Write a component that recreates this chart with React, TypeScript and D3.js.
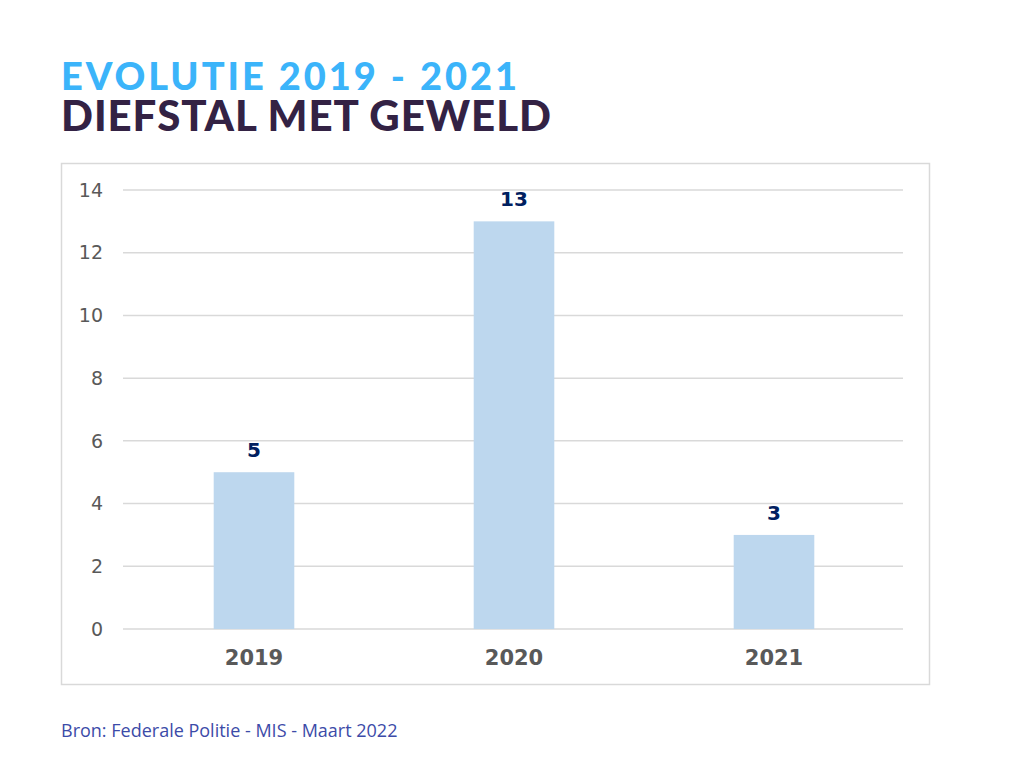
import React, { useEffect, useRef } from 'react';
import * as d3 from 'd3';

const YEARS = ['2019', '2020', '2021'];
const VALUES = [5, 13, 3];
const Y_TICKS = [0, 2, 4, 6, 8, 10, 12, 14];

const WIDTH = 1024;
const HEIGHT = 768;

const App: React.FC = () => {
  const svgRef = useRef<SVGSVGElement>(null);

  useEffect(() => {
    if (!svgRef.current) return;
    const svg = d3.select(svgRef.current);
    svg.selectAll('*').remove();

    svg.append('rect')
      .attr('width', WIDTH)
      .attr('height', HEIGHT)
      .attr('fill', '#ffffff');

    // Titles (stretched a bit to match the wide display face)
    svg.append('text')
      .attr('x', 61)
      .attr('y', 90)
      .attr('textLength', 456)
      .attr('lengthAdjust', 'spacing')
      .style('font-family', 'Lato, sans-serif')
      .style('font-weight', 900)
      .style('font-size', '38px')
      .style('fill', '#3BB4FA')
      .text('EVOLUTIE 2019 - 2021');

    svg.append('text')
      .attr('x', 61)
      .attr('y', 131)
      .attr('textLength', 490)
      .attr('lengthAdjust', 'spacing')
      .style('font-family', 'Lato, sans-serif')
      .style('font-weight', 900)
      .style('font-size', '42px')
      .style('fill', '#332244')
      .text('DIEFSTAL MET GEWELD');

    // Chart frame
    svg.append('rect')
      .attr('x', 61.5)
      .attr('y', 163.5)
      .attr('width', 868)
      .attr('height', 521)
      .attr('fill', 'none')
      .attr('stroke', '#d9d9d9')
      .attr('stroke-width', 1.5);

    const x = d3.scaleBand<string>()
      .domain(YEARS)
      .range([123, 903])
      .paddingInner(0.69)
      .paddingOuter(0.345);

    const y = d3.scaleLinear().domain([0, 14]).range([629, 190]);

    // Gridlines
    svg.append('g')
      .selectAll('line')
      .data(Y_TICKS)
      .enter()
      .append('line')
      .attr('x1', 123)
      .attr('x2', 903)
      .attr('y1', d => y(d))
      .attr('y2', d => y(d))
      .attr('stroke', '#d9d9d9')
      .attr('stroke-width', 1.5);

    // Y tick labels
    svg.append('g')
      .selectAll('text')
      .data(Y_TICKS)
      .enter()
      .append('text')
      .attr('x', 103)
      .attr('y', d => y(d))
      .attr('dy', '0.35em')
      .attr('text-anchor', 'end')
      .style('font-family', '"DejaVu Sans", Verdana, sans-serif')
      .style('font-size', '19px')
      .style('fill', '#595959')
      .text(d => d);

    // Bars
    svg.append('g')
      .selectAll('rect')
      .data(VALUES)
      .enter()
      .append('rect')
      .attr('x', (d, i) => (x(YEARS[i]) as number) + 1)
      .attr('y', d => y(d))
      .attr('width', x.bandwidth())
      .attr('height', d => y(0) - y(d))
      .attr('fill', '#BDD7EE');

    // Value labels
    svg.append('g')
      .selectAll('text')
      .data(VALUES)
      .enter()
      .append('text')
      .attr('x', (d, i) => (x(YEARS[i]) as number) + 1 + x.bandwidth() / 2)
      .attr('y', d => y(d) - 15)
      .attr('text-anchor', 'middle')
      .style('font-family', '"DejaVu Sans", Verdana, sans-serif')
      .style('font-weight', 'bold')
      .style('font-size', '20px')
      .style('fill', '#002060')
      .text(d => d);

    // X labels
    svg.append('g')
      .selectAll('text')
      .data(YEARS)
      .enter()
      .append('text')
      .attr('x', d => (x(d) as number) + 1 + x.bandwidth() / 2)
      .attr('y', 665)
      .attr('text-anchor', 'middle')
      .style('font-family', '"DejaVu Sans", Verdana, sans-serif')
      .style('font-weight', 'bold')
      .style('font-size', '21px')
      .style('fill', '#595959')
      .text(d => d);

    // Source
    svg.append('text')
      .attr('x', 61)
      .attr('y', 737)
      .style('font-family', '"Open Sans", sans-serif')
      .style('font-weight', 400)
      .style('font-size', '18px')
      .style('fill', '#3C4BA8')
      .text('Bron: Federale Politie - MIS - Maart 2022');
  }, []);

  return (
    <svg
      ref={svgRef}
      width={WIDTH}
      height={HEIGHT}
      style={{ position: 'absolute', top: 0, left: 0 }}
    />
  );
};

export default App;
